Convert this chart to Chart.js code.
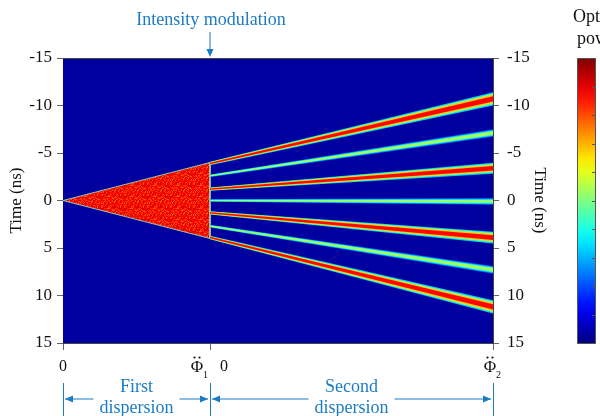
<!DOCTYPE html>
<html>
<head>
<meta charset="utf-8">
<script src="https://cdn.jsdelivr.net/npm/chart.js@4.4.1/dist/chart.umd.min.js"></script>
<style>html,body{margin:0;padding:0;background:#fff;}</style>
</head>
<body>
<canvas id="grafica" width="600" height="416"></canvas>
<script>
// eje de dispersion: 0 .. Phi1 (primera), Phi1 .. Phi2 (segunda)
const dispersionTicks = [0, 1, 2.925];
const timeTicks = [-15, -10, -5, 0, 5, 10, 15];
// pulso chirpeado al final de la primera dispersion (ns)
const pulseEdges = [-4.0, 4.0];
// haces tras la modulacion de intensidad (ns)
const beamStart = [-3.9, -2.6, -1.2, 0, 1.3, 2.7, 3.9];
const beamEnd = [-10.7, -7.1, -3.4, 0.1, 3.9, 7.3, 11.2];
const beamPower = [1, 0.62, 1, 0.6, 1, 0.62, 1];
const beamStartWidth = [0.18, 0.14, 0.18, 0.14, 0.18, 0.14, 0.18];
const beamEndWidth = [0.7, 0.4, 0.58, 0.36, 0.62, 0.4, 0.7];

const serif = "'Liberation Serif', 'Times New Roman', serif";
const azulTexto = '#1b7cc4';

// mapa de color tipo "jet"
function jet(v) {
  const c = x => Math.round(255 * Math.max(0, Math.min(1, x)));
  const r = c(Math.min(4 * v - 1.5, -4 * v + 4.5));
  const g = c(Math.min(4 * v - 0.5, -4 * v + 3.5));
  const b = c(Math.min(4 * v + 0.5, -4 * v + 2.5));
  return `rgb(${r},${g},${b})`;
}

// textura moteada del pulso (solo estilo)
function texturaPulso() {
  const n = 23;
  const tile = document.createElement('canvas');
  tile.width = n; tile.height = n;
  const t = tile.getContext('2d');
  const tonos = [0.88, 0.84, 0.91, 0.8, 0.86, 0.93, 0.83, 0.89, 0.78, 0.87, 0.9];
  for (let i = 0; i < n; i++) {
    for (let j = 0; j < n; j++) {
      const h = (i * 37 + j * 17 + i * j * 13 + (i % 3) * 5) % tonos.length;
      t.fillStyle = jet(tonos[h]);
      t.fillRect(i, j, 1, 1);
    }
  }
  return t.createPattern(tile, 'repeat');
}

const ctx = document.getElementById('grafica').getContext('2d');

const datasets = [];
datasets.push({
  data: [{x: dispersionTicks[0], y: 0}, {x: dispersionTicks[1], y: pulseEdges[0]}, {x: dispersionTicks[1], y: pulseEdges[1]}, {x: dispersionTicks[0], y: 0}],
  showLine: true,
  fill: 'shape',
  backgroundColor: texturaPulso(),
  borderColor: 'rgba(150,230,200,0.85)',
  borderWidth: 1,
  pointRadius: 0,
  order: 100
});

// cada haz se dibuja con capas: borde azul -> cian -> amarillo -> rojo
const capas = [
  {frac: 1.0, nivel: 0.33},
  {frac: 0.8, nivel: 0.5},
  {frac: 0.6, nivel: 0.68},
  {frac: 0.4, nivel: 0.87}
];
beamStart.forEach((s, i) => {
  const e = beamEnd[i];
  capas.forEach((capa, k) => {
    const w0 = beamStartWidth[i] * capa.frac;
    const w1 = beamEndWidth[i] * capa.frac;
    datasets.push({
      data: [
        {x: dispersionTicks[1], y: s - w0},
        {x: dispersionTicks[2], y: e - w1},
        {x: dispersionTicks[2], y: e + w1},
        {x: dispersionTicks[1], y: s + w0}
      ],
      showLine: true,
      fill: 'shape',
      backgroundColor: jet(beamPower[i] * capa.nivel),
      borderWidth: 0,
      pointRadius: 0,
      order: 20 - k
    });
  });
});

const decoraciones = {
  id: 'decoraciones',
  beforeDatasetsDraw(chart) {
    const a = chart.chartArea;
    const c = chart.ctx;
    c.save();
    c.fillStyle = jet(0.03);
    c.fillRect(a.left, a.top, a.right - a.left, a.bottom - a.top);
    c.restore();
  },
  afterDraw(chart) {
    const a = chart.chartArea;
    const c = chart.ctx;
    const xs = chart.scales.x;
    const px = dispersionTicks.map(v => xs.getPixelForValue(v));
    c.save();
    // borde superior
    c.strokeStyle = '#444';
    c.lineWidth = 1;
    c.beginPath(); c.moveTo(a.left, a.top + 0.5); c.lineTo(a.right, a.top + 0.5); c.stroke();

    // etiquetas del eje x
    c.fillStyle = '#111';
    c.textBaseline = 'middle';
    c.textAlign = 'center';
    c.font = '16px ' + serif;
    c.fillText('0', px[0], 367);
    c.fillText('0', px[1] + 14, 367);
    const phi = (x, sub) => {
      c.font = '17px ' + serif;
      c.fillText('\u03A6', x, 368);
      c.beginPath(); c.arc(x - 2.5, 357.5, 1.1, 0, 2 * Math.PI); c.fill();
      c.beginPath(); c.arc(x + 2.5, 357.5, 1.1, 0, 2 * Math.PI); c.fill();
      c.font = '10px ' + serif;
      c.fillText(sub, x + 8.5, 375);
    };
    phi(px[1] - 13, '1');
    phi(px[2] - 3, '2');

    // modulacion de intensidad
    c.fillStyle = azulTexto;
    c.strokeStyle = azulTexto;
    c.font = '18px ' + serif;
    c.fillText('Intensity modulation', px[1] + 1, 20);
    c.beginPath(); c.moveTo(px[1], 32); c.lineTo(px[1], 50); c.stroke();
    c.beginPath(); c.moveTo(px[1] - 3.5, 49); c.lineTo(px[1] + 3.5, 49); c.lineTo(px[1], 57); c.closePath(); c.fill();

    // flechas de dispersion
    const yFlecha = 399;
    c.lineWidth = 1;
    px.forEach(x => {
      c.beginPath(); c.moveTo(Math.round(x) + 0.5, 383); c.lineTo(Math.round(x) + 0.5, 416); c.stroke();
    });
    const flecha = (x, dir) => {
      c.beginPath();
      c.moveTo(x, yFlecha);
      c.lineTo(x - dir * 8, yFlecha - 3.5);
      c.lineTo(x - dir * 8, yFlecha + 3.5);
      c.closePath(); c.fill();
    };
    const tramo = (x0, x1, texto1, texto2) => {
      const m = (x0 + x1) / 2;
      const w = Math.max(c.measureText(texto1).width, c.measureText(texto2).width) / 2 + 6;
      c.beginPath(); c.moveTo(x0 + 2, yFlecha); c.lineTo(m - w, yFlecha); c.stroke();
      c.beginPath(); c.moveTo(m + w, yFlecha); c.lineTo(x1 - 2, yFlecha); c.stroke();
      flecha(x0 + 2, -1);
      flecha(x1 - 2, 1);
      c.fillText(texto1, m, 387);
      c.fillText(texto2, m, 408);
    };
    tramo(px[0], px[1], 'First', 'dispersion');
    tramo(px[1], px[2], 'Second', 'dispersion');

    // barra de color
    const bx = 577, bw = 18;
    const g = c.createLinearGradient(0, a.bottom, 0, a.top);
    for (let v = 0; v <= 1.0001; v += 0.05) g.addColorStop(Math.min(1, v), jet(v));
    c.fillStyle = g;
    c.fillRect(bx, a.top, bw, a.bottom - a.top);
    c.strokeStyle = '#555';
    c.strokeRect(bx + 0.5, a.top + 0.5, bw, a.bottom - a.top);
    for (let k = 1; k < 10; k++) {
      const y = Math.round(a.top + (a.bottom - a.top) * k / 10) + 0.5;
      c.beginPath(); c.moveTo(bx + bw - 3, y); c.lineTo(bx + bw, y); c.stroke();
    }
    c.fillStyle = '#111';
    c.textAlign = 'left';
    c.font = '18px ' + serif;
    c.fillText('Optical', 573, 17);
    c.fillText('power', 577, 39);
    c.restore();
  }
};

const ejeTiempo = (pos, ancho) => ({
  type: 'linear',
  position: pos,
  reverse: true,
  min: -15,
  max: 15,
  afterBuildTicks: s => { s.ticks = timeTicks.map(v => ({value: v})); },
  afterFit: s => { s.width = ancho; },
  grid: {drawOnChartArea: false, tickLength: 6, color: '#666'},
  border: {color: '#444'},
  ticks: {font: {family: serif, size: 17}, color: '#111', padding: pos === 'left' ? 5 : 8},
  title: {display: true, text: 'Time (ns)', font: {family: serif, size: 17}, color: '#111', padding: {top: pos === 'left' ? 6 : 0, bottom: 0}}
});

new Chart(ctx, {
  type: 'scatter',
  data: {datasets: datasets},
  options: {
    responsive: false,
    animation: false,
    layout: {padding: {top: 58, right: 50, bottom: 0, left: 0}},
    plugins: {legend: {display: false}, tooltip: {enabled: false}},
    scales: {
      x: {
        type: 'linear',
        min: dispersionTicks[0],
        max: dispersionTicks[2],
        afterBuildTicks: s => { s.ticks = dispersionTicks.map(v => ({value: v})); },
        afterFit: s => { s.height = 73; },
        grid: {drawOnChartArea: false, tickLength: 7, color: '#666'},
        border: {color: '#444'},
        ticks: {display: false}
      },
      y: ejeTiempo('left', 63),
      y2: ejeTiempo('right', 57)
    }
  },
  plugins: [decoraciones]
});
</script>
</body>
</html>
